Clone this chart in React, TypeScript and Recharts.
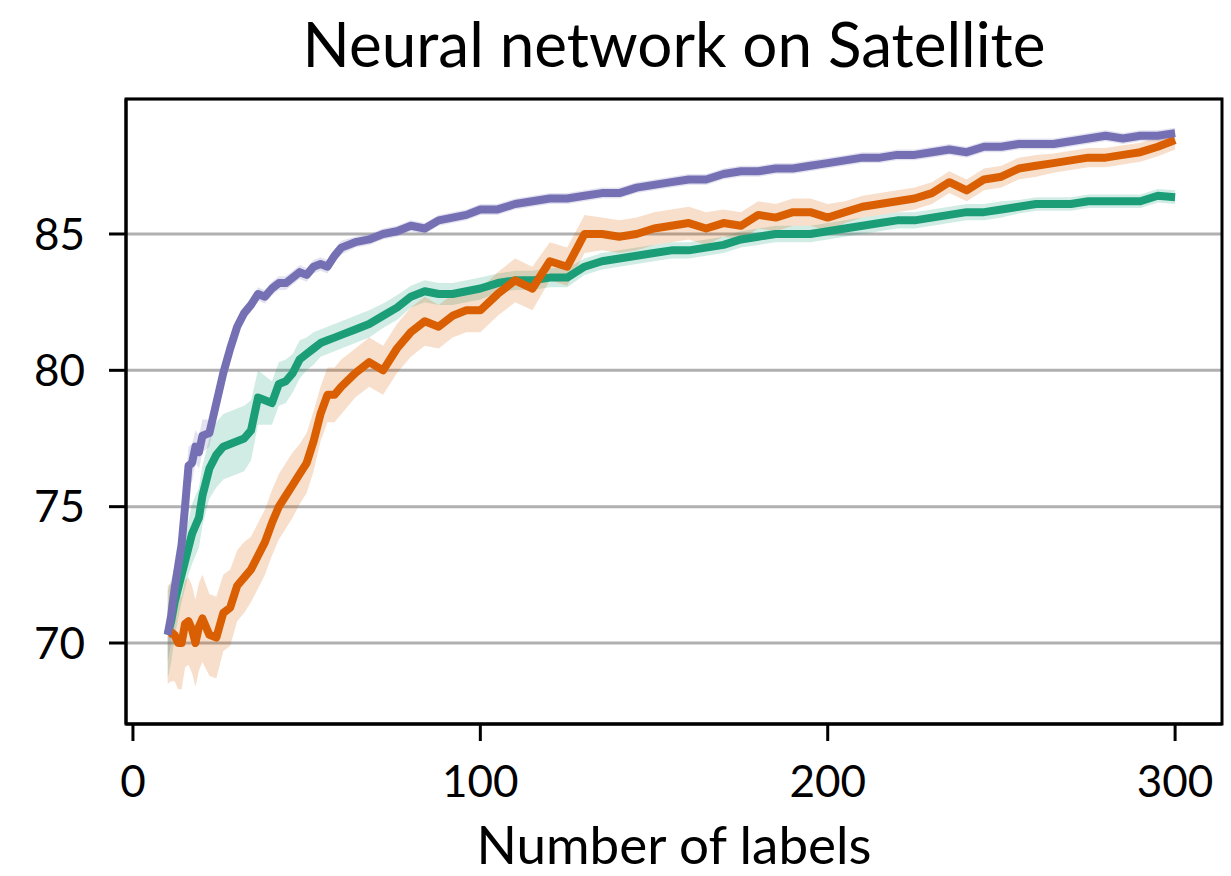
import {
  Area,
  CartesianGrid,
  ComposedChart,
  Line,
  ReferenceArea,
  XAxis,
  YAxis,
} from "recharts";

const labels = [
  10, 11, 12, 13, 14, 15, 16, 17, 18, 19, 20,
  22, 24, 26, 28, 30, 32, 34, 36, 38, 40, 42, 44, 46, 48, 50, 52, 54, 56, 58, 60,
  64, 68, 72, 76, 80, 84, 88, 92, 96, 100,
  105, 110, 115, 120, 125, 130, 135, 140, 145, 150, 155, 160, 165, 170, 175, 180,
  185, 190, 195, 200, 205, 210, 215, 220, 225, 230, 235, 240, 245, 250, 255, 260,
  265, 270, 275, 280, 285, 290, 295, 300,
];

const purpleMean = [
  70.3, 71.0, 72.0, 72.8, 73.6, 75.0, 76.5, 76.6, 77.2, 77.0, 77.6,
  77.7, 78.8, 79.9, 80.8, 81.6, 82.1, 82.4, 82.8, 82.7, 83.0, 83.2, 83.2, 83.4, 83.6, 83.5, 83.8, 83.9, 83.8, 84.2, 84.5,
  84.7, 84.8, 85.0, 85.1, 85.3, 85.2, 85.5, 85.6, 85.7, 85.9,
  85.9, 86.1, 86.2, 86.3, 86.3, 86.4, 86.5, 86.5, 86.7, 86.8, 86.9, 87.0, 87.0, 87.2, 87.3, 87.3,
  87.4, 87.4, 87.5, 87.6, 87.7, 87.8, 87.8, 87.9, 87.9, 88.0, 88.1, 88.0, 88.2, 88.2, 88.3, 88.3,
  88.3, 88.4, 88.5, 88.6, 88.5, 88.6, 88.6, 88.7,
];
const purpleSpread = [
  1.0, 1.0, 1.0, 0.9, 0.8, 0.8, 0.7, 0.7, 0.6, 0.6, 0.6,
  0.5, 0.4, 0.35, 0.3, 0.25, 0.25, 0.25, 0.25, 0.25, 0.25, 0.25, 0.25, 0.25, 0.25, 0.25, 0.25, 0.25, 0.25, 0.25, 0.25,
  0.2, 0.2, 0.2, 0.2, 0.2, 0.2, 0.2, 0.2, 0.2, 0.2,
  0.2, 0.2, 0.2, 0.2, 0.2, 0.2, 0.2, 0.2, 0.2, 0.2, 0.2, 0.2, 0.2, 0.2, 0.2, 0.2,
  0.2, 0.2, 0.2, 0.2, 0.2, 0.2, 0.2, 0.2, 0.2, 0.2, 0.2, 0.2, 0.2, 0.2, 0.2, 0.2,
  0.2, 0.2, 0.2, 0.2, 0.2, 0.2, 0.2, 0.2,
];

const orangeMean = [
  70.3, 70.4, 70.3, 70.0, 70.0, 70.7, 70.8, 70.5, 70.0, 70.6, 70.9,
  70.3, 70.2, 71.1, 71.3, 72.1, 72.4, 72.7, 73.2, 73.7, 74.4, 75.0, 75.4, 75.8, 76.2, 76.6, 77.4, 78.4, 79.1, 79.1, 79.4,
  79.9, 80.3, 80.0, 80.8, 81.4, 81.8, 81.6, 82.0, 82.2, 82.2,
  82.8, 83.3, 83.0, 84.0, 83.8, 85.0, 85.0, 84.9, 85.0, 85.2, 85.3, 85.4, 85.2, 85.4, 85.3, 85.7,
  85.6, 85.8, 85.8, 85.6, 85.8, 86.0, 86.1, 86.2, 86.3, 86.5, 86.9, 86.6, 87.0, 87.1, 87.4, 87.5,
  87.6, 87.7, 87.8, 87.8, 87.9, 88.0, 88.2, 88.45,
];
const orangeSpread = [
  1.8, 1.8, 1.7, 1.7, 1.7, 1.6, 1.6, 1.6, 1.6, 1.6, 1.6,
  1.5, 1.5, 1.4, 1.4, 1.3, 1.3, 1.2, 1.2, 1.2, 1.2, 1.2, 1.2, 1.2, 1.1, 1.1, 1.1, 1.0, 1.0, 1.0, 1.0,
  0.9, 0.9, 0.9, 0.9, 0.9, 0.9, 0.8, 0.8, 0.8, 0.8,
  0.8, 0.8, 0.8, 0.7, 0.7, 0.7, 0.6, 0.6, 0.6, 0.6, 0.6, 0.6, 0.6, 0.5, 0.5, 0.5,
  0.5, 0.5, 0.5, 0.5, 0.4, 0.4, 0.4, 0.4, 0.4, 0.4, 0.4, 0.4, 0.4, 0.4, 0.4, 0.4,
  0.35, 0.35, 0.35, 0.35, 0.35, 0.35, 0.35, 0.35,
];

const greenMean = [
  70.3, 70.8, 71.5, 72.0, 72.5, 73.0, 73.5, 74.0, 74.3, 74.6, 75.4,
  76.4, 76.9, 77.2, 77.3, 77.4, 77.5, 77.8, 79.0, 78.9, 78.8, 79.5, 79.6, 79.9, 80.4, 80.6, 80.8, 81.0, 81.1, 81.2, 81.3,
  81.5, 81.7, 82.0, 82.3, 82.7, 82.9, 82.8, 82.8, 82.9, 83.0,
  83.2, 83.3, 83.3, 83.4, 83.4, 83.8, 84.0, 84.1, 84.2, 84.3, 84.4, 84.4, 84.5, 84.6, 84.8, 84.9,
  85.0, 85.0, 85.0, 85.1, 85.2, 85.3, 85.4, 85.5, 85.5, 85.6, 85.7, 85.8, 85.8, 85.9, 86.0, 86.1,
  86.1, 86.1, 86.2, 86.2, 86.2, 86.2, 86.4, 86.35,
];
const greenSpread = [
  1.6, 1.5, 1.3, 1.1, 1.0, 1.0, 1.0, 1.1, 1.1, 1.1, 1.1,
  1.1, 1.2, 1.2, 1.2, 1.2, 1.2, 1.1, 1.0, 0.9, 0.8, 0.8, 0.8, 0.7, 0.7, 0.6, 0.6, 0.5, 0.5, 0.5, 0.5,
  0.5, 0.5, 0.45, 0.45, 0.4, 0.4, 0.4, 0.4, 0.4, 0.4,
  0.35, 0.35, 0.35, 0.35, 0.35, 0.3, 0.3, 0.3, 0.3, 0.3, 0.3, 0.3, 0.3, 0.3, 0.3, 0.3,
  0.3, 0.3, 0.3, 0.3, 0.3, 0.3, 0.3, 0.3, 0.3, 0.3, 0.3, 0.3, 0.3, 0.3, 0.25, 0.25,
  0.25, 0.25, 0.25, 0.25, 0.25, 0.25, 0.25, 0.25,
];

const xTicks = [0, 100, 200, 300];
const yTicks = [70, 75, 80, 85];
const xDomain = [-2, 313.5];
const yDomain = [67.03, 89.95];

const PURPLE = "#7570b3";
const ORANGE = "#d95f02";
const GREEN = "#1b9e77";
const FONT = "Lato, 'DejaVu Sans', sans-serif";

const rows = labels.map((n, i) => ({
  n,
  purple: purpleMean[i],
  purpleBand: [purpleMean[i] - purpleSpread[i], purpleMean[i] + purpleSpread[i]],
  orange: orangeMean[i],
  orangeBand: [orangeMean[i] - orangeSpread[i], orangeMean[i] + orangeSpread[i]],
  green: greenMean[i],
  greenBand: [greenMean[i] - greenSpread[i], greenMean[i] + greenSpread[i]],
}));

const tickStyle = { fill: "#000000", fontSize: 44, fontFamily: FONT };
const tickLine = { stroke: "#000", strokeWidth: 3 };

export default function App() {
  return (
    <div
      style={{
        position: "absolute",
        left: 0,
        top: 0,
        width: 1231,
        height: 876,
        background: "#ffffff",
        fontFamily: FONT,
      }}
    >
      <div
        style={{
          position: "absolute",
          left: 126,
          width: 1096,
          top: 6,
          textAlign: "center",
          fontSize: 62,
          color: "#000",
          whiteSpace: "nowrap",
        }}
      >
        Neural network on Satellite
      </div>
      <div
        style={{
          position: "absolute",
          left: 126,
          width: 1096,
          top: 817,
          height: 53,
          lineHeight: "53px",
          textAlign: "center",
          fontSize: 53,
          color: "#000",
          whiteSpace: "nowrap",
        }}
      >
        Number of labels
      </div>
      <ComposedChart
        width={1231}
        height={876}
        data={rows}
        margin={{ top: 99, right: 9, bottom: 0, left: 0 }}
      >
        <CartesianGrid vertical={false} stroke="#b0b0b0" strokeWidth={3} />
        <XAxis
          dataKey="n"
          type="number"
          domain={xDomain}
          ticks={xTicks}
          height={152}
          tick={tickStyle}
          tickSize={17}
          tickMargin={25}
          tickLine={tickLine}
          axisLine={tickLine}
          allowDataOverflow
        />
        <YAxis
          type="number"
          domain={yDomain}
          ticks={yTicks}
          width={126}
          tick={tickStyle}
          tickSize={17}
          tickMargin={24}
          tickLine={tickLine}
          axisLine={tickLine}
          allowDataOverflow
        />
        <Area
          type="linear"
          dataKey="greenBand"
          stroke="none"
          fill={GREEN}
          fillOpacity={0.2}
          isAnimationActive={false}
        />
        <Area
          type="linear"
          dataKey="orangeBand"
          stroke="none"
          fill={ORANGE}
          fillOpacity={0.2}
          isAnimationActive={false}
        />
        <Area
          type="linear"
          dataKey="purpleBand"
          stroke="none"
          fill={PURPLE}
          fillOpacity={0.2}
          isAnimationActive={false}
        />
        <Line
          type="linear"
          dataKey="green"
          stroke={GREEN}
          strokeWidth={8}
          strokeLinejoin="round"
          dot={false}
          isAnimationActive={false}
        />
        <Line
          type="linear"
          dataKey="orange"
          stroke={ORANGE}
          strokeWidth={8}
          strokeLinejoin="round"
          dot={false}
          isAnimationActive={false}
        />
        <Line
          type="linear"
          dataKey="purple"
          stroke={PURPLE}
          strokeWidth={8}
          strokeLinejoin="round"
          dot={false}
          isAnimationActive={false}
        />
        <ReferenceArea
          x1={xDomain[0]}
          x2={xDomain[1]}
          y1={yDomain[0]}
          y2={yDomain[1]}
          fill="none"
          stroke="#000"
          strokeWidth={3}
          ifOverflow="visible"
        />
      </ComposedChart>
    </div>
  );
}
